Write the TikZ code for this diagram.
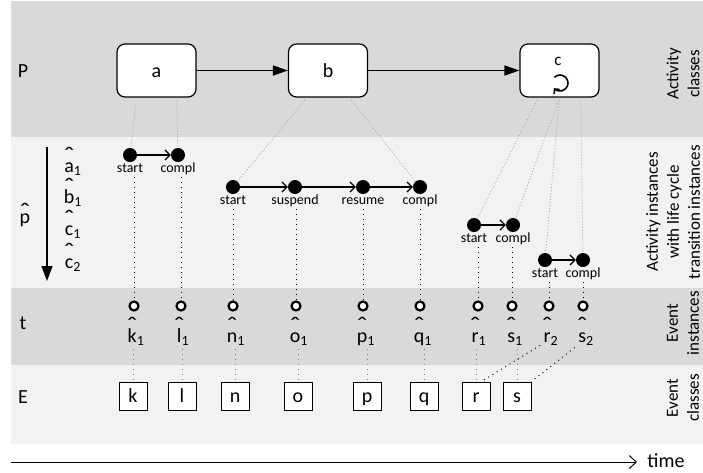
\documentclass[tikz,border=0pt]{standalone}
\usepackage{fontspec}
\usepackage{graphicx}
\setmainfont{Carlito}
\usetikzlibrary{arrows.meta}

\definecolor{banddark}{HTML}{D9D9D9}
\definecolor{bandlight}{HTML}{F2F2F2}
\newcommand\hatc[2][9pt]{\ooalign{#2\cr\hidewidth\raisebox{#1}{\scalebox{1.5}[1.2]{\char"02C6}}\hidewidth\cr}}
\newcommand\hatl[2]{\hatc{#1}\textsubscript{#2}}
\newcommand\bigfont{\fontsize{20}{24}\selectfont}
\newcommand\sidefont{\fontsize{17}{21}\selectfont}
\newcommand\smallfont{\fontsize{14}{16}\selectfont}

\begin{document}
\begin{tikzpicture}
  [x=1pt,y=-1pt,label distance=0pt,every node/.style={font=\bigfont},
   act/.style={draw,line width=1.2pt,rounded corners=8pt,fill=white,minimum width=79pt,minimum height=53pt,text height=13pt,text depth=0pt},
   dot/.style={circle,fill=black,inner sep=0pt,minimum size=14pt},
   evt/.style={circle,draw,line width=2.2pt,fill=white,inner sep=0pt,minimum size=9pt},
   cls/.style={draw,line width=1pt,fill=white,minimum size=28pt,inner sep=0pt,text height=13pt,text depth=0pt},
   every label/.style={font=\smallfont,inner sep=1pt,text height=9.5pt,text depth=3pt},
   hatlbl/.style={anchor=base},
   side/.style={rotate=90,align=center,font=\sidefont},
   link/.style={gray!70,line width=0.8pt,dash pattern=on 1pt off 2pt},
   trace/.style={line width=0.9pt,dash pattern=on 1pt off 4pt},
   flow/.style={line width=1.5pt,-{Triangle[length=15pt,width=10pt]}},
   move/.style={line width=1.2pt,-{Straight Barb[length=5pt,width=10pt]}}]
  \useasboundingbox (0,0) rectangle (703,472);
  % bands
  \fill[banddark] (11,1) rectangle (703,137);
  \fill[bandlight] (11,137) rectangle (703,288);
  \fill[banddark] (11,288) rectangle (703,365);
  \fill[bandlight] (11,365) rectangle (703,444);
  % row names
  \node (P) at (23,71) {P};
  \node[hatlbl] (phat) at (25,223) {\hatc[3.5pt]{p}};
  \node (t) at (23,323) {t};
  \node (E) at (23,397) {E};
  \node[hatlbl] (ia1) at (73,172) {\hatl{a}{1}};
  \node[hatlbl] (ib1) at (73,203) {\hatl{b}{1}};
  \node[hatlbl] (ic1) at (73,235) {\hatl{c}{1}};
  \node[hatlbl] (ic2) at (73,268) {\hatl{c}{2}};
  \coordinate (d0) at (47,147);
  \coordinate (d1) at (47,281);
  \node[side] (sideA) at (683,74) {Activity\\classes};
  \node[side] (sideB) at (673,212) {Activity instances\\with life cycle\\transition instances};
  \node[side] (sideC) at (683,323) {Event\\instances};
  \node[side] (sideD) at (683,398) {Event\\classes};
  % activity classes
  \node[act] (a) at (156.5,70.5) {a};
  \node[act] (b) at (328,70.5) {b};
  \node[act] (c) at (559.5,70.5) {};
  \node[font=\sidefont] (cname) at (558,61) {c};
  \draw[line width=1.6pt,-{Straight Barb[length=3.5pt,width=7pt]}] (560,83) ++(-135:8) arc[start angle=-135,end angle=140,radius=8];
  % activity instances
  \node[dot,label={[name=a1sl]below:start}] (a1s) at (130,155) {};
  \node[dot,label={[name=a1cl]below:compl}] (a1c) at (178,155) {};
  \node[dot,label={[name=b1sl]below:start}] (b1s) at (233,187) {};
  \node[dot,label={[name=b1ul]below:suspend}] (b1u) at (295,187) {};
  \node[dot,label={[name=b1rl]below:resume}] (b1r) at (363,187) {};
  \node[dot,label={[name=b1cl]below:compl}] (b1c) at (420,187) {};
  \node[dot,label={[name=c1sl]below:start}] (c1s) at (474,225) {};
  \node[dot,label={[name=c1cl]below:compl}] (c1c) at (513,225) {};
  \node[dot,label={[name=c2sl]below:start}] (c2s) at (545,260) {};
  \node[dot,label={[name=c2cl]below:compl}] (c2c) at (583,260) {};
  % event instances
  \node[evt] (k1) at (134,306) {};  \node[hatlbl] (k1l) at (136,342) {\hatl{k}{1}};
  \node[evt] (l1) at (181,306) {};  \node[hatlbl] (l1l) at (183,342) {\hatl{l}{1}};
  \node[evt] (n1) at (233,306) {};  \node[hatlbl] (n1l) at (236,342) {\hatl{n}{1}};
  \node[evt] (o1) at (296,306) {};  \node[hatlbl] (o1l) at (299,342) {\hatl{o}{1}};
  \node[evt] (p1) at (363,306) {};  \node[hatlbl] (p1l) at (366,342) {\hatl{p}{1}};
  \node[evt] (q1) at (420,306) {};  \node[hatlbl] (q1l) at (423,342) {\hatl{q}{1}};
  \node[evt] (r1) at (478,306) {};  \node[hatlbl] (r1l) at (479,342) {\hatl{r}{1}};
  \node[evt] (s1) at (512,306) {};  \node[hatlbl] (s1l) at (515,342) {\hatl{s}{1}};
  \node[evt] (r2) at (549,306) {};  \node[hatlbl] (r2l) at (551,342) {\hatl{r}{2}};
  \node[evt] (s2) at (583,306) {};  \node[hatlbl] (s2l) at (586,342) {\hatl{s}{2}};
  % event classes
  \node[cls] (k) at (133,396) {k};
  \node[cls] (l) at (182,396) {l};
  \node[cls] (n) at (235,396) {n};
  \node[cls] (o) at (298,396) {o};
  \node[cls] (p) at (367,396) {p};
  \node[cls] (q) at (424,396) {q};
  \node[cls] (r) at (476,396) {r};
  \node[cls] (s) at (517,396) {s};
  \node[inner sep=1pt,anchor=base] (time) at (666,467) {time};
  \coordinate (t0) at (11,462);
  \coordinate (t1) at (637,462);
  % connectors
  \draw[flow,line width=1.3pt,-{Triangle[length=15pt,width=11pt]}] (d0) -- (d1);
  \draw[line width=1pt,-{Straight Barb[length=7pt,width=13pt]}] (t0) -- (t1);
  \foreach \from/\to in {a/b,b/c}
    \draw[flow] (\from) -- (\to);
  \foreach \from/\to in {a1s/a1c,b1s/b1u,b1u/b1r,b1r/b1c,c1s/c1c,c2s/c2c}
    \draw[move] (\from) -- (\to);
  \foreach \from/\dx/\to in {a.south west/20pt/a1s,a.south east/-20pt/a1c,b.south west/19pt/b1s,b.south east/-19pt/b1c,c.south west/19pt/c1s,c.south/0pt/c1c,c.south/0pt/c2s,c.south east/-19pt/c2c}
    \draw[link] ([xshift=\dx]\from) -- (\to);
  \foreach \from/\to in {a1sl/k1,a1cl/l1,b1sl/n1,b1ul/o1,b1rl/p1,b1cl/q1,c1sl/r1,c1cl/s1,c2sl/r2,c2cl/s2}
    \draw[trace] (\from.south -| \to) -- (\to);
  \foreach \from/\to in {k1l/k,l1l/l,n1l/n,o1l/o,p1l/p,q1l/q,r1l/r,s1l/s}
    \draw[trace,gray] (\to |- \from.south) -- (\to);
  \draw[trace] (r2l) -- (r.70);
  \draw[trace] (s2l) -- (s.north east);
\end{tikzpicture}
\end{document}
